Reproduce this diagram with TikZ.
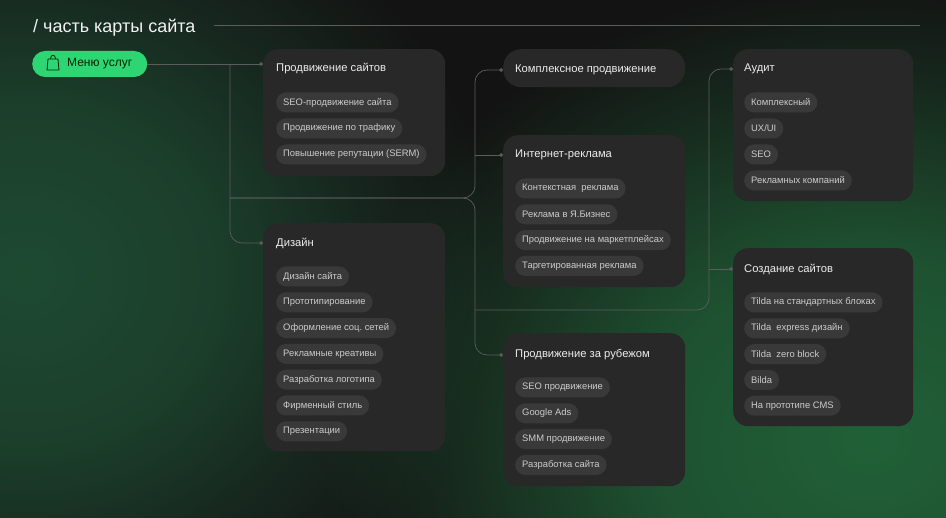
\documentclass[tikz,border=0pt]{standalone}
\usepackage{fontspec}
\setmainfont{Liberation Sans}
\usetikzlibrary{fadings,arrows.meta}
\frenchspacing
\definecolor{bg}{HTML}{131313}
\definecolor{glowL}{HTML}{1E4A32}
\definecolor{glowR}{HTML}{216138}
\definecolor{cardcol}{HTML}{282828}
\definecolor{pillcol}{HTML}{393939}
\definecolor{linecol}{HTML}{5C5C5C}
\definecolor{btncol}{HTML}{2ED573}
\pgfdeclareradialshading{glowshade}{\pgfpointorigin}{color(0bp)=(pgftransparent!0); color(10bp)=(pgftransparent!20); color(18bp)=(pgftransparent!65); color(25bp)=(pgftransparent!100); color(50bp)=(pgftransparent!100)}
\pgfdeclarefading{glowfade}{\pgfuseshading{glowshade}}
\tikzstyle{card} = [rectangle, rounded corners=15pt, fill=cardcol, inner sep=0pt, anchor=north west]
\tikzset{cardtitle/.style={anchor=west, inner sep=0pt, text=white!93!black, font=\fontsize{11.2}{13}\selectfont},
    pill/.style={anchor=west, rounded corners=10pt, fill=pillcol, text=white!80!black, inner xsep=7pt, minimum height=20pt, font=\fontsize{9.4}{11}\selectfont},
    conn/.style={draw=linecol, line width=0.7pt, rounded corners=12pt, -{Circle[length=3.8pt]}}}

\begin{document}
\begin{tikzpicture}[x=1pt, y=-1pt]
    \useasboundingbox (0,0) rectangle (946,518);
    % background with green glow
    \fill[bg] (0,0) rectangle (946,518);
    \fill[glowL, path fading=glowfade] (-450,-150) rectangle (500,700);
    \fill[glowR, path fading=glowfade] (320,-20) rectangle (1420,900);
    %
    \node[anchor=west, inner sep=0pt, text=white!95!black, font=\fontsize{18}{21}\selectfont] (heading) at (33,27.5) {/ часть карты сайта};
    \coordinate (ruleEnd) at (920,25);
    \draw[linecol, line width=0.6pt] ([xshift=18pt]heading.east |- ruleEnd) -- (ruleEnd);
    %
    \node[anchor=west, rounded corners=13pt, fill=btncol, text=black!85!green, minimum height=26pt, inner xsep=15pt, font=\fontsize{12}{14}\selectfont] (menu) at (32,64) {\hspace*{20pt}Меню услуг};
    \begin{scope}[shift={(menu.west)}, line width=0.8pt, black!85!green, line join=round]
        \draw (15,6) -- (27,6) -- (26,-5) -- (16,-5) -- cycle;
        \draw (18.5,-5) .. controls (18.5,-10) and (23.5,-10) .. (23.5,-5);
    \end{scope}
    %
    % cards
    \node[card, minimum width=182pt, minimum height=127pt] (prodsite) at (263,49) {};
    \node[card, minimum width=182pt, minimum height=228pt] (dizain) at (263,223) {};
    \node[card, rounded corners=18pt, minimum width=182pt, minimum height=38pt] (kompl) at (503,49) {};
    \node[card, minimum width=182pt, minimum height=152pt] (inet) at (503,135) {};
    \node[card, minimum width=182pt, minimum height=153pt] (abroad) at (503,333) {};
    \node[card, minimum width=180pt, minimum height=152pt] (audit) at (733,49) {};
    \node[card, minimum width=180pt, minimum height=178pt] (sozd) at (733,248) {};
    %
    \node[cardtitle] (prodsiteT) at (276,69) {Продвижение сайтов};
    \node[cardtitle] (dizainT) at (276,243) {Дизайн};
    \node[cardtitle] (komplT) at (515,70) {Комплексное продвижение};
    \node[cardtitle] (inetT) at (515,155) {Интернет-реклама};
    \node[cardtitle] (abroadT) at (515,355) {Продвижение за рубежом};
    \node[cardtitle] (auditT) at (744,69) {Аудит};
    \node[cardtitle] (sozdT) at (744,269) {Создание сайтов};
    %
    \foreach \t [count=\i] in {SEO-продвижение сайта, Продвижение по трафику, Повышение репутации (SERM)}
        \node[pill] (prodsite\i) at (276,76.5+26*\i) {\t};
    \foreach \t [count=\i] in {Дизайн сайта, Прототипирование, Оформление соц. сетей, Рекламные креативы, Разработка логотипа, Фирменный стиль, Презентации}
        \node[pill] (dizain\i) at (276,250.7+25.8*\i) {\t};
    \foreach \t [count=\i] in {Контекстная\ \ реклама, Реклама в Я.Бизнес, Продвижение на маркетплейсах, Таргетированная реклама}
        \node[pill] (inet\i) at (515,162.7+25.8*\i) {\t};
    \foreach \t [count=\i] in {SEO продвижение, Google Ads, SMM продвижение, Разработка сайта}
        \node[pill] (abroad\i) at (515,361.7+25.8*\i) {\t};
    \foreach \t [count=\i] in {Комплексный, UX/UI, SEO, Рекламных компаний}
        \node[pill] (audit\i) at (744,76.5+26*\i) {\t};
    \foreach \t [count=\i] in {Tilda на стандартных блоках, Tilda\ \ express дизайн, Tilda\ \ zero block, Bilda, На прототипе CMS}
        \node[pill] (sozd\i) at (744,276.7+25.8*\i) {\t};
    %
    % connectors
    \coordinate (jA) at (230,64);
    \coordinate (jB) at (230,198);
    \coordinate (busC) at (475,198);
    \coordinate (jD) at (475,310);
    \coordinate (busE) at (709,310);
    \draw[conn] (menu.east) -- (prodsite.west |- jA);
    \draw[conn] (jA) |- (dizain.west |- dizainT);
    \draw[conn] (jB) -| (busC |- komplT) -- (kompl.west |- komplT);
    \draw[conn] (jB) -| (busC |- abroadT) -- (abroad.west |- abroadT);
    \draw[conn] (busC |- inetT) -- (inet.west |- inetT);
    \draw[conn] (jD) -| (busE |- auditT) -- (audit.west |- auditT);
    \draw[conn] (busE |- sozdT) -- (sozd.west |- sozdT);
\end{tikzpicture}
\end{document}
